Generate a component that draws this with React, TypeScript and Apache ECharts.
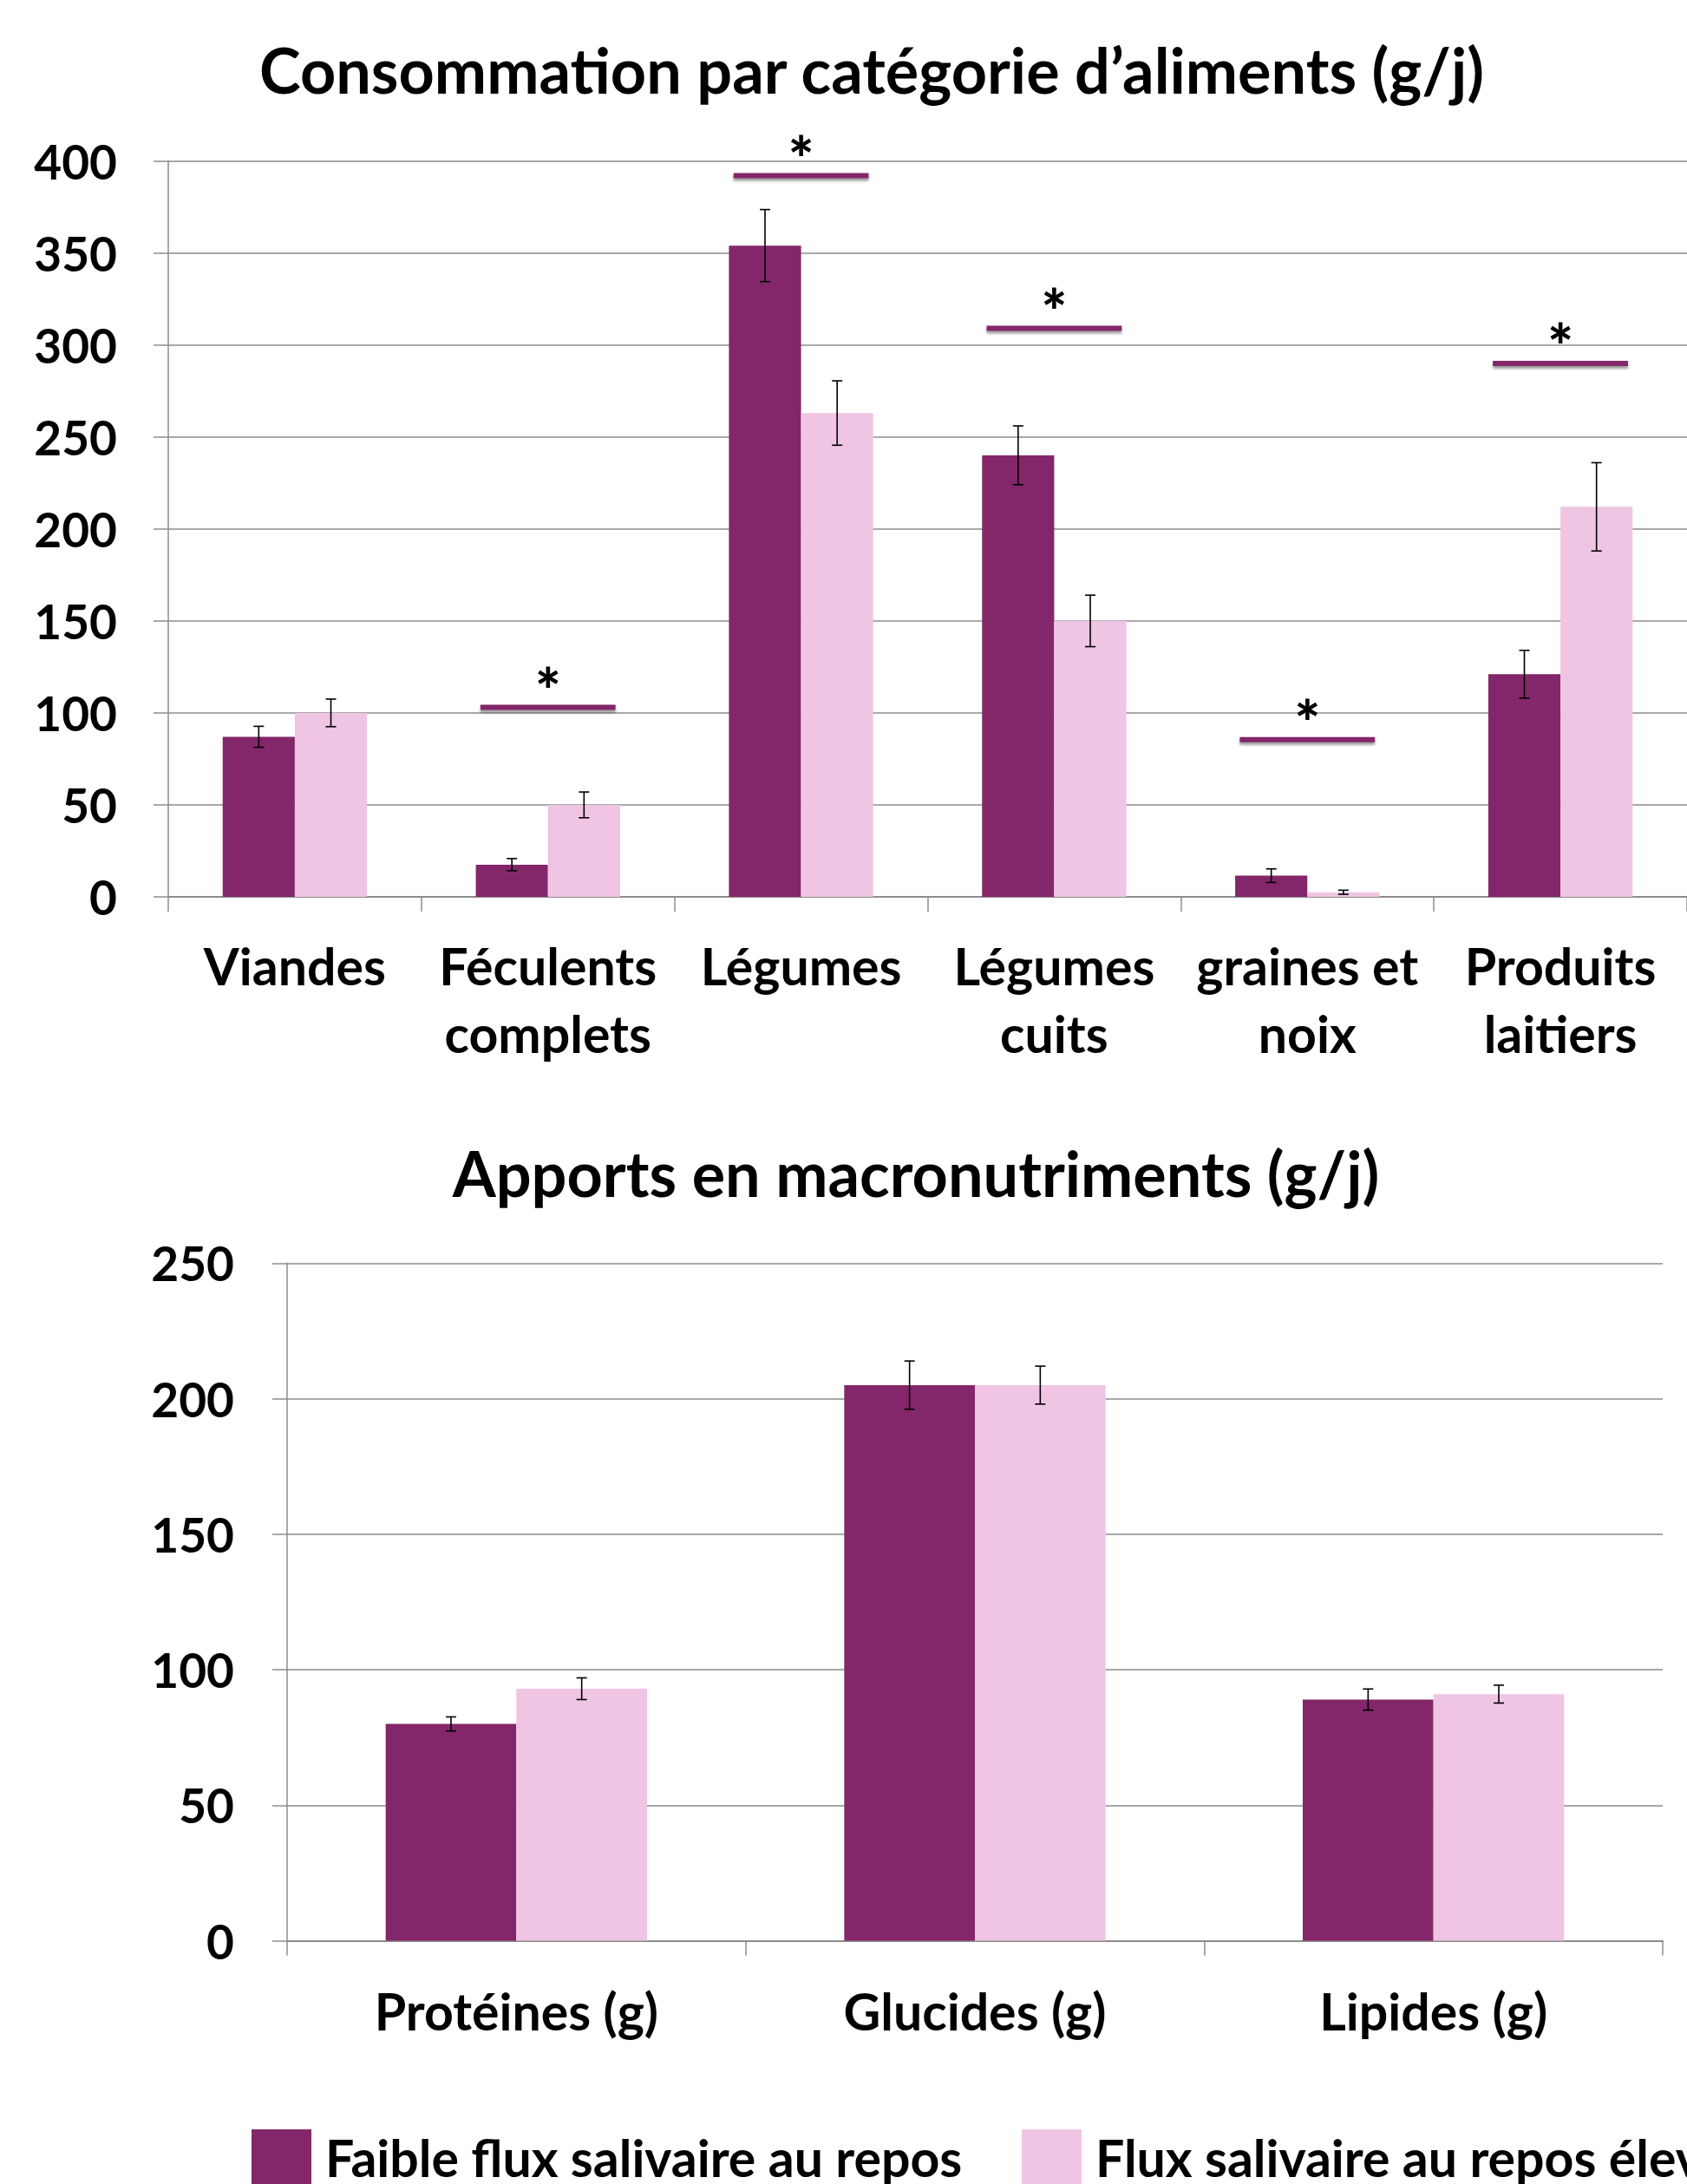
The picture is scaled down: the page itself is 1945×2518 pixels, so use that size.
import React, { useEffect, useRef } from "react";
import * as echarts from "echarts";

const seriesNames = ["Faible flux salivaire au repos", "Flux salivaire au repos élevé"];

const foodCategories = ["Viandes", "Féculents\ncomplets", "Légumes", "Légumes\ncuits", "graines et\nnoix", "Produits\nlaitiers"];
const foodLow = [87, 17.5, 354, 240, 11.5, 121];
const foodLowErr = [5.7, 3.3, 19.6, 16, 3.7, 13];
const foodHigh = [100, 50, 263, 150, 2.5, 212];
const foodHighErr = [7.5, 7, 17.5, 14, 1.1, 24];
const sigCategoryIndex = [1, 2, 3, 4, 5];
const sigLevel = [103, 392, 309, 85.5, 290];

const macroCategories = ["Protéines (g)", "Glucides (g)", "Lipides (g)"];
const macroLow = [80, 205, 89];
const macroLowErr = [2.6, 8.9, 3.9];
const macroHigh = [93, 205, 91];
const macroHighErr = [4, 7, 3.3];

const DARK = "#84276A";
const LIGHT = "#EFC5E3";
const GRIDC = "#8c8c8c";
const FONT = "Lato";
const GAP = 0.43;

function errorBarRender(side: number) {
  return (params: any, api: any) => {
    const cat = api.value(0);
    const lo = api.value(1);
    const hi = api.value(2);
    const band = api.size([1, 0])[0];
    const barW = (band * (1 - GAP)) / 2;
    const pLo = api.coord([cat, lo]);
    const pHi = api.coord([cat, hi]);
    const x = pLo[0] + (side * barW) / 2;
    const cap = 6;
    const style = { stroke: "#000", lineWidth: 1.6 };
    return {
      type: "group",
      children: [
        { type: "line", shape: { x1: x, y1: pHi[1], x2: x, y2: pLo[1] }, style },
        { type: "line", shape: { x1: x - cap, y1: pHi[1], x2: x + cap, y2: pHi[1] }, style },
        { type: "line", shape: { x1: x - cap, y1: pLo[1], x2: x + cap, y2: pLo[1] }, style },
      ],
    };
  };
}

function sigRender(params: any, api: any) {
  const cat = api.value(0);
  const lvl = api.value(1);
  const band = api.size([1, 0])[0];
  const half = band * 0.267;
  const p = api.coord([cat, lvl]);
  return {
    type: "group",
    children: [
      {
        type: "rect",
        shape: { x: p[0] - half, y: p[1] - 3, width: half * 2, height: 6 },
        style: { fill: DARK, shadowBlur: 3, shadowColor: "rgba(0,0,0,0.4)", shadowOffsetY: 3 },
      },
      {
        type: "text",
        x: p[0],
        y: p[1] - 21,
        style: { text: "*", fill: "#000", font: `900 70px ${FONT}`, textAlign: "center", textVerticalAlign: "middle" },
      },
    ],
  };
}

function makeErr(vals: number[], errs: number[]) {
  return vals.map((v, i) => [i, v - errs[i], v + errs[i]]);
}

export default function App() {
  const ref = useRef<HTMLDivElement>(null);
  useEffect(() => {
    if (!ref.current) return;
    const chart = echarts.init(ref.current, null, { renderer: "svg" });
    const labelStyle = { color: "#000", fontFamily: FONT, fontWeight: "bold" as const, fontSize: 55 };
    const catLabelStyle = { ...labelStyle, fontSize: 59, lineHeight: 78 };
    const legendCommon = {
      top: 2450,
      itemWidth: 69,
      itemHeight: 64,
      icon: "rect",
      width: 1600,
      textStyle: { ...labelStyle, fontSize: 59, padding: [0, 0, 0, 11] },
    };
    const xAxisCommon = {
      type: "category" as const,
      axisLine: { lineStyle: { color: GRIDC, width: 2 } },
      axisTick: { show: true, length: 17, lineStyle: { color: GRIDC, width: 1.5 }, interval: 0 },
    };
    const yAxisCommon = {
      type: "value" as const,
      min: 0,
      interval: 50,
      axisLine: { show: true, lineStyle: { color: GRIDC, width: 1.5 } },
      axisTick: { show: true, length: 17, lineStyle: { color: GRIDC, width: 1.5 } },
      splitLine: { lineStyle: { color: GRIDC, width: 1.5 } },
    };
    const titleStyle = { color: "#000", fontFamily: FONT, fontWeight: "bold" as const, fontSize: 72, lineHeight: 80 };
    chart.setOption({
      animation: false,
      backgroundColor: "#fff",
      title: [
        { text: "Consommation par catégorie d’aliments (g/j)", left: 1000, top: 35, textAlign: "center", textStyle: titleStyle },
        { text: "Apports en macronutriments (g/j)", left: 1051, top: 1307, textAlign: "center", textStyle: titleStyle },
      ],
      legend: [
        { ...legendCommon, left: 285, data: [seriesNames[0]] },
        { ...legendCommon, left: 1173, data: [seriesNames[1]] },
      ],
      grid: [
        { left: 194, top: 185.6, width: 1758, height: 848.4 },
        { left: 331, top: 1456.3, width: 1586, height: 781.3 },
      ],
      xAxis: [
        { ...xAxisCommon, gridIndex: 0, data: foodCategories, axisLabel: { ...catLabelStyle, margin: 40, interval: 0 } },
        { ...xAxisCommon, gridIndex: 1, data: macroCategories, axisLabel: { ...catLabelStyle, margin: 42, interval: 0 } },
      ],
      yAxis: [
        { ...yAxisCommon, gridIndex: 0, max: 400, axisLabel: { ...labelStyle, margin: 59 } },
        { ...yAxisCommon, gridIndex: 1, max: 250, axisLabel: { ...labelStyle, margin: 61 } },
      ],
      series: [
        { name: seriesNames[0], type: "bar", xAxisIndex: 0, yAxisIndex: 0, data: foodLow, itemStyle: { color: DARK }, barGap: "0%", barCategoryGap: "43%" },
        { name: seriesNames[1], type: "bar", xAxisIndex: 0, yAxisIndex: 0, data: foodHigh, itemStyle: { color: LIGHT }, barGap: "0%", barCategoryGap: "43%" },
        { name: seriesNames[0], type: "bar", xAxisIndex: 1, yAxisIndex: 1, data: macroLow, itemStyle: { color: DARK }, barGap: "0%", barCategoryGap: "43%" },
        { name: seriesNames[1], type: "bar", xAxisIndex: 1, yAxisIndex: 1, data: macroHigh, itemStyle: { color: LIGHT }, barGap: "0%", barCategoryGap: "43%" },
        { name: "errFoodLow", type: "custom", xAxisIndex: 0, yAxisIndex: 0, renderItem: errorBarRender(-1), data: makeErr(foodLow, foodLowErr), encode: { x: 0, y: [1, 2] }, z: 5 },
        { name: "errFoodHigh", type: "custom", xAxisIndex: 0, yAxisIndex: 0, renderItem: errorBarRender(1), data: makeErr(foodHigh, foodHighErr), encode: { x: 0, y: [1, 2] }, z: 5 },
        { name: "errMacroLow", type: "custom", xAxisIndex: 1, yAxisIndex: 1, renderItem: errorBarRender(-1), data: makeErr(macroLow, macroLowErr), encode: { x: 0, y: [1, 2] }, z: 5 },
        { name: "errMacroHigh", type: "custom", xAxisIndex: 1, yAxisIndex: 1, renderItem: errorBarRender(1), data: makeErr(macroHigh, macroHighErr), encode: { x: 0, y: [1, 2] }, z: 5 },
        { name: "significance", type: "custom", xAxisIndex: 0, yAxisIndex: 0, renderItem: sigRender, data: sigCategoryIndex.map((c, i) => [c, sigLevel[i]]), encode: { x: 0, y: 1 }, z: 6 },
      ],
    });
    return () => chart.dispose();
  }, []);
  return <div ref={ref} style={{ position: "absolute", left: 0, top: 0, width: 1945, height: 2518 }} />;
}
